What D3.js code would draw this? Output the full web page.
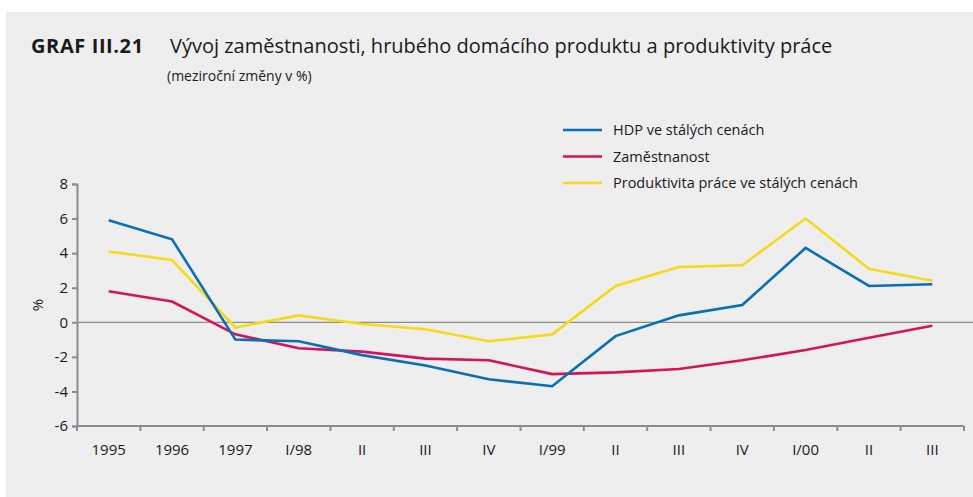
<!DOCTYPE html>
<html>
<head>
<meta charset="utf-8">
<script src="https://cdn.jsdelivr.net/npm/d3@7"></script>
<style>
  html, body { margin: 0; padding: 0; background: #fff; }
  svg { display: block; }
  text { font-family: "Open Sans", sans-serif; fill: #1a1a1a; }
</style>
</head>
<body>
<svg width="973" height="497"></svg>
<script>
// categories on the x axis
var periods = ["1995", "1996", "1997", "I/98", "II", "III", "IV", "I/99", "II", "III", "IV", "I/00", "II", "III"];
// year-on-year changes in %
var hdp = [5.9, 4.8, -1.0, -1.1, -1.9, -2.5, -3.3, -3.7, -0.8, 0.4, 1.0, 4.3, 2.1, 2.2];
var zamestnanost = [1.8, 1.2, -0.7, -1.5, -1.7, -2.1, -2.2, -3.0, -2.9, -2.7, -2.2, -1.6, -0.9, -0.2];
var produktivita = [4.1, 3.6, -0.3, 0.4, -0.1, -0.4, -1.1, -0.7, 2.1, 3.2, 3.3, 6.0, 3.1, 2.4];
var yTicks = [8, 6, 4, 2, 0, -2, -4, -6];
var seriesNames = ["HDP ve stálých cenách", "Zaměstnanost", "Produktivita práce ve stálých cenách"];
var seriesColors = ["#0a6eb4", "#d4145a", "#f7d917"];

var svg = d3.select("svg");
var p_left = 77, p_right = 964, p_top = 184, p_bottom = 426;

// grey panel
svg.append("rect")
    .attr("x", 6).attr("y", 12)
    .attr("width", 973 - 6).attr("height", 497 - 12)
    .attr("fill", "#eeeeee");

// title
var title = svg.append("text").attr("x", 31).attr("y", 53).style("font-size", "20px");
title.append("tspan").style("font-weight", "bold").style("letter-spacing", "0.6px").text("GRAF III.21");
title.append("tspan").attr("x", 170).text("Vývoj zaměstnanosti, hrubého domácího produktu a produktivity práce");
svg.append("text").attr("x", 167).attr("y", 81).style("font-size", "14px")
    .text("(meziroční změny v %)");

var x = d3.scaleBand().domain(d3.range(periods.length)).range([p_left, p_right]);
var y = d3.scaleLinear().domain([-6, 8]).range([p_bottom, p_top]);

// zero line
svg.append("line")
    .attr("x1", p_left).attr("x2", 973)
    .attr("y1", y(0)).attr("y2", y(0))
    .attr("stroke", "#8c8c8c").attr("stroke-width", 1.2);

// y axis
var yAxis = svg.append("g")
    .attr("transform", "translate(" + p_left + ",0)")
    .call(d3.axisLeft(y).tickValues(yTicks).tickSize(5).tickPadding(4).tickFormat(d3.format("d")));
yAxis.select(".domain").attr("stroke", "#8c8c8c").attr("stroke-width", 2);
yAxis.selectAll(".tick line").attr("stroke", "#8c8c8c").attr("stroke-width", 2);
yAxis.selectAll(".tick text").style("font-size", "15px").attr("fill", "#1a1a1a")
    .text(function (d) { return d < 0 ? "-" + Math.abs(d) : d; });

svg.append("text")
    .attr("transform", "translate(43," + y(1) + ") rotate(-90)")
    .attr("text-anchor", "middle").style("font-size", "15px").text("%");

// x axis: ticks at band edges, labels at band centres
var xg = svg.append("g").attr("transform", "translate(0," + p_bottom + ")");
xg.append("line").attr("x1", p_left).attr("x2", p_right).attr("y1", 0).attr("y2", 0)
    .attr("stroke", "#8c8c8c").attr("stroke-width", 2);
d3.range(periods.length + 1).forEach(function (i) {
    var xx = i < periods.length ? x(i) : p_right;
    xg.append("line").attr("x1", xx).attr("x2", xx).attr("y1", 0).attr("y2", 5)
        .attr("stroke", "#8c8c8c").attr("stroke-width", 2);
});
xg.selectAll("text.lbl").data(periods).enter().append("text")
    .attr("class", "lbl")
    .attr("x", function (d, i) { return x(i) + x.bandwidth() / 2; })
    .attr("y", 29)
    .attr("text-anchor", "middle").style("font-size", "15px")
    .text(function (d) { return d; });

// lines (yellow first so it sits underneath)
var line = d3.line()
    .x(function (d, i) { return x(i) + x.bandwidth() / 2; })
    .y(function (d) { return y(d); });
var lineGroup = svg.append("g");
[produktivita, zamestnanost, hdp].forEach(function (s, k) {
    lineGroup.append("path").datum(s)
        .attr("d", line)
        .attr("fill", "none")
        .attr("stroke", seriesColors[2 - k])
        .attr("stroke-width", 2.6)
        .attr("stroke-linejoin", "miter");
});

// legend
var lg = svg.append("g");
seriesNames.forEach(function (n, k) {
    var ly = 130 + k * 26.5;
    lg.append("line").attr("x1", 563).attr("x2", 602).attr("y1", ly).attr("y2", ly)
        .attr("stroke", seriesColors[k]).attr("stroke-width", 2.6);
    lg.append("text").attr("x", 613).attr("y", ly + 5).style("font-size", "14.5px").text(n);
});
</script>
</body>
</html>
